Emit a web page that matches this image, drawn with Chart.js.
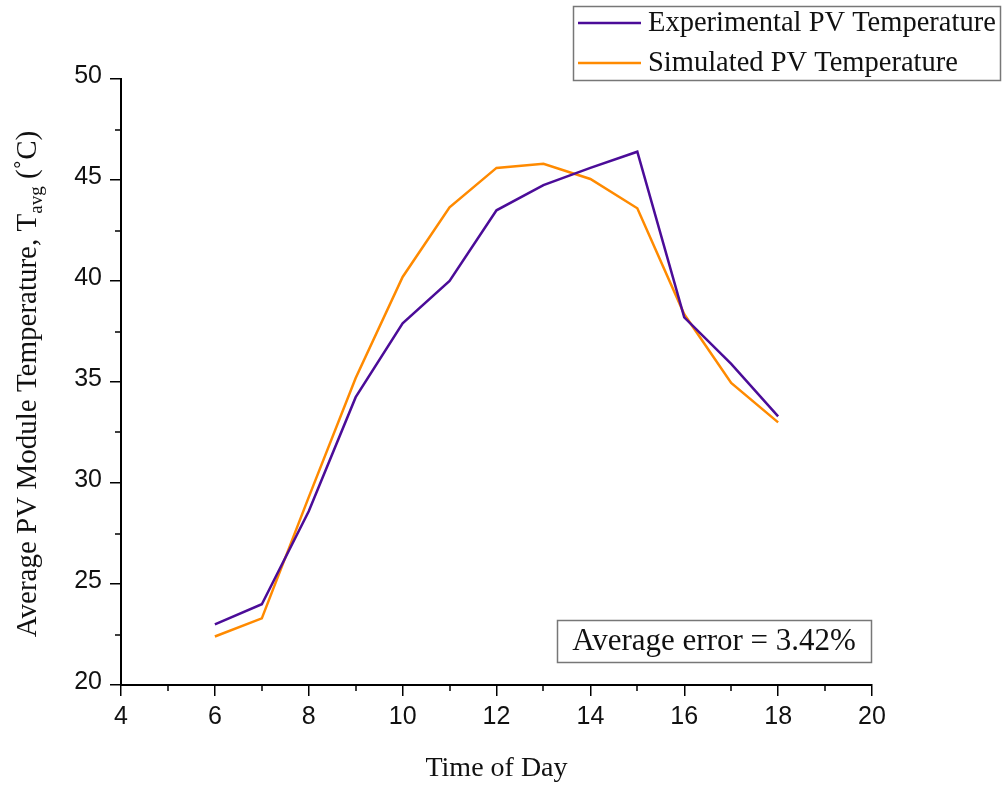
<!DOCTYPE html>
<html lang="en">
<head>
  <meta charset="UTF-8">
  <title>PV Module Temperature</title>
  <script src="https://cdn.jsdelivr.net/npm/chart.js"></script>
  <style>
    html, body { margin: 0; padding: 0; background: #fff; }
    canvas { display: block; }
  </style>
</head>
<body>
  <canvas id="tempChart" width="1006" height="789"></canvas>

  <script>
    // hours of the day
    const hours = [6, 7, 8, 9, 10, 11, 12, 13, 14, 15, 16, 17, 18];
    const experimental = [23.0, 24.0, 28.6, 34.25, 37.9, 40.0, 43.5, 44.75, 45.6, 46.4, 38.2, 35.9, 33.3];
    const simulated = [22.4, 23.3, 29.3, 35.2, 40.2, 43.65, 45.6, 45.8, 45.05, 43.6, 38.35, 34.95, 33.0];

    const xTicks = [4, 6, 8, 10, 12, 14, 16, 18, 20];
    const yTicks = [20, 25, 30, 35, 40, 45, 50];
    const xMinor = [5, 7, 9, 11, 13, 15, 17, 19];
    const yMinor = [22.5, 27.5, 32.5, 37.5, 42.5, 47.5];

    const seriesNames = ['Experimental PV Temperature', 'Simulated PV Temperature'];
    const seriesColors = ['#4b0c98', '#ff8a00'];
    const errorLabel = 'Average error = 3.42%';

    const serif = '"Liberation Serif", "Times New Roman", serif';
    const sans = '"Liberation Sans", Arial, sans-serif';

    const toPoints = ys => hours.map((h, i) => ({ x: h, y: ys[i] }));

    // small outward minor ticks on both axes
    const minorTicks = {
      id: 'minorTicks',
      afterDraw(chart) {
        const ctx = chart.ctx;
        const { x, y } = chart.scales;
        const area = chart.chartArea;
        ctx.save();
        ctx.strokeStyle = '#000';
        ctx.lineWidth = 1.5;
        ctx.beginPath();
        xMinor.forEach(v => {
          const px = Math.round(x.getPixelForValue(v));
          ctx.moveTo(px, area.bottom);
          ctx.lineTo(px, area.bottom + 6);
        });
        yMinor.forEach(v => {
          const py = Math.round(y.getPixelForValue(v));
          ctx.moveTo(area.left, py);
          ctx.lineTo(area.left - 6, py);
        });
        ctx.stroke();
        ctx.restore();
      }
    };

    // rotated y title with the "avg" subscript
    const yTitle = {
      id: 'yTitle',
      afterDraw(chart) {
        const ctx = chart.ctx;
        const parts = [
          { text: 'Average PV Module Temperature, T', size: 29, shift: 0 },
          { text: 'avg', size: 19, shift: 6 },
          { text: ' (\u02DAC)', size: 29, shift: 0 }
        ];
        ctx.save();
        let total = 0;
        parts.forEach(p => {
          ctx.font = p.size + 'px ' + serif;
          p.w = ctx.measureText(p.text).width;
          total += p.w;
        });
        ctx.translate(36, 384);
        ctx.rotate(-Math.PI / 2);
        ctx.fillStyle = '#111';
        ctx.textBaseline = 'alphabetic';
        ctx.textAlign = 'left';
        let cx = -total / 2;
        parts.forEach(p => {
          ctx.font = p.size + 'px ' + serif;
          ctx.fillText(p.text, cx, p.shift);
          cx += p.w;
        });
        ctx.restore();
      }
    };

    // boxed legend in the top right corner
    const boxLegend = {
      id: 'boxLegend',
      afterDraw(chart) {
        const ctx = chart.ctx;
        const left = 573, top = 6, w = 427, h = 74;
        ctx.save();
        ctx.strokeStyle = '#777';
        ctx.lineWidth = 1.5;
        ctx.strokeRect(left + 0.5, top + 0.5, w, h);
        ctx.font = '28.5px ' + serif;
        ctx.textBaseline = 'middle';
        ctx.textAlign = 'left';
        chart.data.datasets.forEach((ds, i) => {
          const cy = 23 + i * 40;
          ctx.strokeStyle = ds.borderColor;
          ctx.lineWidth = 2.5;
          ctx.beginPath();
          ctx.moveTo(578, cy);
          ctx.lineTo(641, cy);
          ctx.stroke();
          ctx.fillStyle = '#111';
          ctx.fillText(ds.label, 648, cy + 1);
        });
        ctx.restore();
      }
    };

    // boxed note with the average error
    const errorNote = {
      id: 'errorNote',
      afterDraw(chart) {
        const ctx = chart.ctx;
        ctx.save();
        ctx.strokeStyle = '#777';
        ctx.lineWidth = 1.5;
        ctx.strokeRect(557.5, 620.5, 314, 42);
        ctx.font = '31px ' + serif;
        ctx.fillStyle = '#111';
        ctx.textBaseline = 'middle';
        ctx.textAlign = 'center';
        ctx.fillText(errorLabel, 714, 642);
        ctx.restore();
      }
    };

    const ctx = document.getElementById('tempChart').getContext('2d');
    new Chart(ctx, {
      type: 'line',
      data: {
        datasets: [
          {
            label: seriesNames[0],
            data: toPoints(experimental),
            borderColor: seriesColors[0],
            backgroundColor: seriesColors[0],
            borderWidth: 2.5,
            pointRadius: 0,
            tension: 0
          },
          {
            label: seriesNames[1],
            data: toPoints(simulated),
            borderColor: seriesColors[1],
            backgroundColor: seriesColors[1],
            borderWidth: 2.5,
            pointRadius: 0,
            tension: 0
          }
        ]
      },
      options: {
        responsive: false,
        animation: false,
        layout: { padding: { top: 79, right: 134, left: 0, bottom: 0 } },
        plugins: {
          legend: { display: false },
          tooltip: { enabled: false }
        },
        scales: {
          x: {
            type: 'linear',
            min: 4,
            max: 20,
            afterBuildTicks: scale => { scale.ticks = xTicks.map(v => ({ value: v })); },
            afterFit: scale => { scale.height = 104; },
            ticks: {
              color: '#111',
              font: { family: sans, size: 25 },
              padding: 6,
              maxRotation: 0
            },
            grid: {
              drawOnChartArea: false,
              drawTicks: true,
              tickLength: 11,
              color: '#000',
              lineWidth: 1.5
            },
            border: { color: '#000', width: 2 },
            title: {
              display: true,
              text: 'Time of Day',
              color: '#111',
              font: { family: serif, size: 28 },
              padding: { top: 4, bottom: 4 }
            }
          },
          y: {
            min: 20,
            max: 50,
            afterBuildTicks: scale => { scale.ticks = yTicks.map(v => ({ value: v })); },
            afterFit: scale => { scale.width = 121; },
            ticks: {
              color: '#111',
              font: { family: sans, size: 25 },
              padding: 8,
              labelOffset: -3
            },
            grid: {
              drawOnChartArea: false,
              drawTicks: true,
              tickLength: 11,
              color: '#000',
              lineWidth: 1.5
            },
            border: { color: '#000', width: 2 }
          }
        }
      },
      plugins: [minorTicks, yTitle, boxLegend, errorNote]
    });
  </script>
</body>
</html>
